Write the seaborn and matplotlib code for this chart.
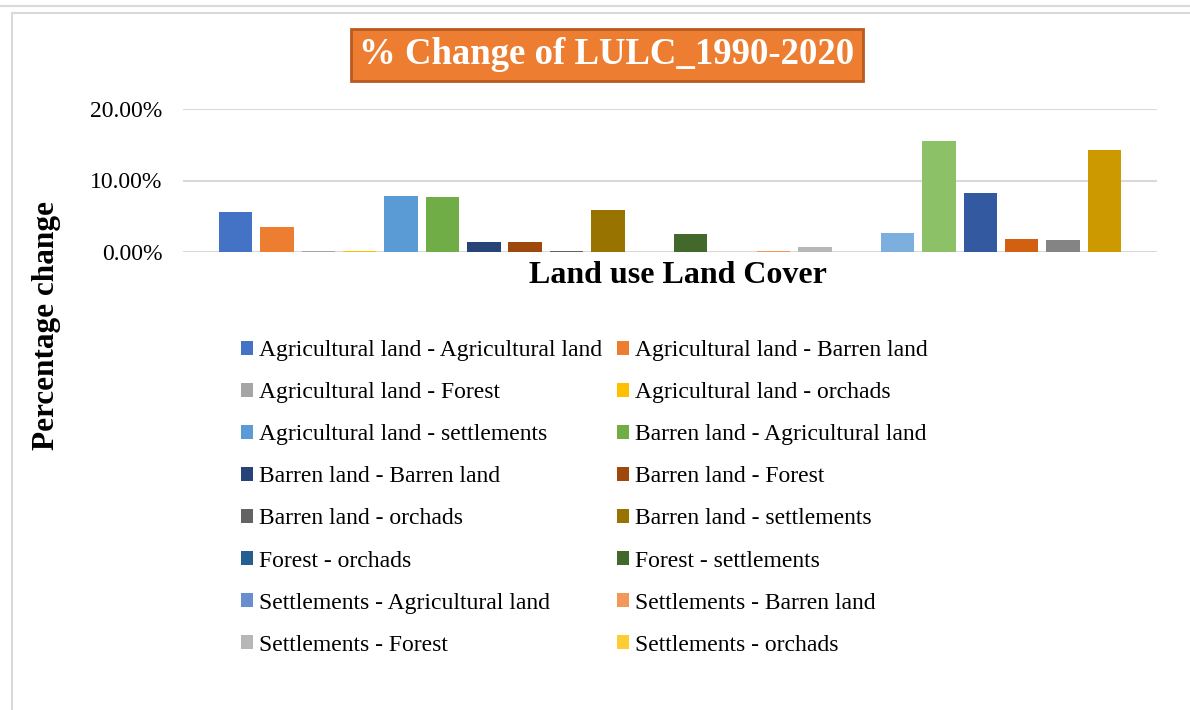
import pandas as pd
import matplotlib.pyplot as plt
import seaborn as sns
from matplotlib.patches import Patch
from matplotlib.lines import Line2D
from matplotlib.ticker import FuncFormatter

# LULC transitions (from - to), percentage change 1990-2020
transitions = [
    "Agricultural land - Agricultural land", "Agricultural land - Barren land",
    "Agricultural land - Forest", "Agricultural land - orchads",
    "Agricultural land - settlements", "Barren land - Agricultural land",
    "Barren land - Barren land", "Barren land - Forest",
    "Barren land - orchads", "Barren land - settlements",
    "Forest - orchads", "Forest - settlements",
    "Settlements - Agricultural land", "Settlements - Barren land",
    "Settlements - Forest", "Settlements - orchads",
    # these ones are cut off in the original legend
    "Settlements - settlements", "orchads - Agricultural land",
    "orchads - Barren land", "orchads - Forest",
    "orchads - orchads", "orchads - settlements",
]
pct_change = [5.6, 3.5, 0.15, 0.15, 7.8, 7.7, 1.4, 1.4, 0.15, 5.9, 0.0, 2.5,
              0.0, 0.15, 0.7, 0.0, 2.7, 15.5, 8.3, 1.8, 1.7, 14.3]
n_legend = 16

# excel office palette
colors = ["#4472C4", "#ED7D31", "#A5A5A5", "#FFC000", "#5B9BD5", "#70AD47",
          "#264478", "#9E480E", "#636363", "#997300", "#255E91", "#43682B",
          "#698ED0", "#F1975A", "#B7B7B7", "#FFCD33", "#7CAFDD", "#8CC168",
          "#335AA1", "#D26012", "#848484", "#CC9A00"]

df = pd.DataFrame({"transition": transitions, "pct": pct_change})

sns.set_style("white")
plt.rcParams["font.family"] = ["Liberation Serif", "DejaVu Serif"]
plt.rcParams["text.color"] = "black"
plt.rcParams["ytick.color"] = "black"

fig = plt.figure(figsize=(11.9, 7.1), dpi=100)
ax = fig.add_axes([183 / 1190, 1 - 252 / 710, (1157 - 183) / 1190, (252 - 109) / 710])

sns.barplot(data=df, x="transition", y="pct", hue="transition", palette=colors,
            saturation=1, width=0.81, legend=False, ax=ax, zorder=3,
            edgecolor="none", linewidth=0)

ax.set_ylim(0, 20)
ax.set_yticks([0, 10, 20])
ax.yaxis.set_major_formatter(FuncFormatter(lambda v, p: f"{v:.2f}%"))
ax.set_xlim(-1.27, len(transitions) - 1 + 1.27)
ax.set_xticks([])
ax.set_xlabel("")
ax.set_ylabel("")
ax.grid(axis="y", color="#D9D9D9", linewidth=1.5, zorder=0)
for s in ax.spines.values():
    s.set_visible(False)
ax.tick_params(axis="y", length=0, labelsize=17, pad=15, labelcolor="black")

# title box
fig.text(0.510, 1 - 55 / 710, "% Change of LULC_1990-2020", ha="center", va="center",
         fontsize=26.5, fontweight="bold", color="white",
         bbox=dict(boxstyle="square,pad=0.22", facecolor="#ED7D31", edgecolor="#B95A1F", linewidth=2))

fig.text(678 / 1190, 1 - 276 / 710, "Land use Land Cover", ha="center", va="center",
         fontsize=23, fontweight="bold", color="black")
fig.text(47 / 1190, 1 - 326 / 710, "Percentage change", ha="center", va="center",
         rotation=90, fontsize=22.5, fontweight="bold", color="black")

# legend fills row by row like excel
order = list(range(0, n_legend, 2)) + list(range(1, n_legend, 2))
handles = [Patch(facecolor=colors[i], edgecolor="none") for i in order]
labels = [transitions[i] for i in order]
fig.legend(handles, labels, ncol=2, loc="upper left",
           bbox_to_anchor=(232 / 1190, 1 - 331 / 710), frameon=False, fontsize=17,
           handlelength=0.5, handleheight=0.5, handletextpad=0.25,
           columnspacing=0.62, labelspacing=0.89, borderaxespad=0,
           labelcolor="black")

# chart frame lines
fig.add_artist(Line2D([0, 1], [1 - 6 / 710, 1 - 6 / 710], color="#D9D9D9", linewidth=1.5))
fig.add_artist(Line2D([12 / 1190, 1], [1 - 13 / 710, 1 - 13 / 710], color="#D9D9D9", linewidth=1.5))
fig.add_artist(Line2D([12 / 1190, 12 / 1190], [0, 1 - 13 / 710], color="#D9D9D9", linewidth=1.5))

fig.savefig("out.png", dpi=100)
